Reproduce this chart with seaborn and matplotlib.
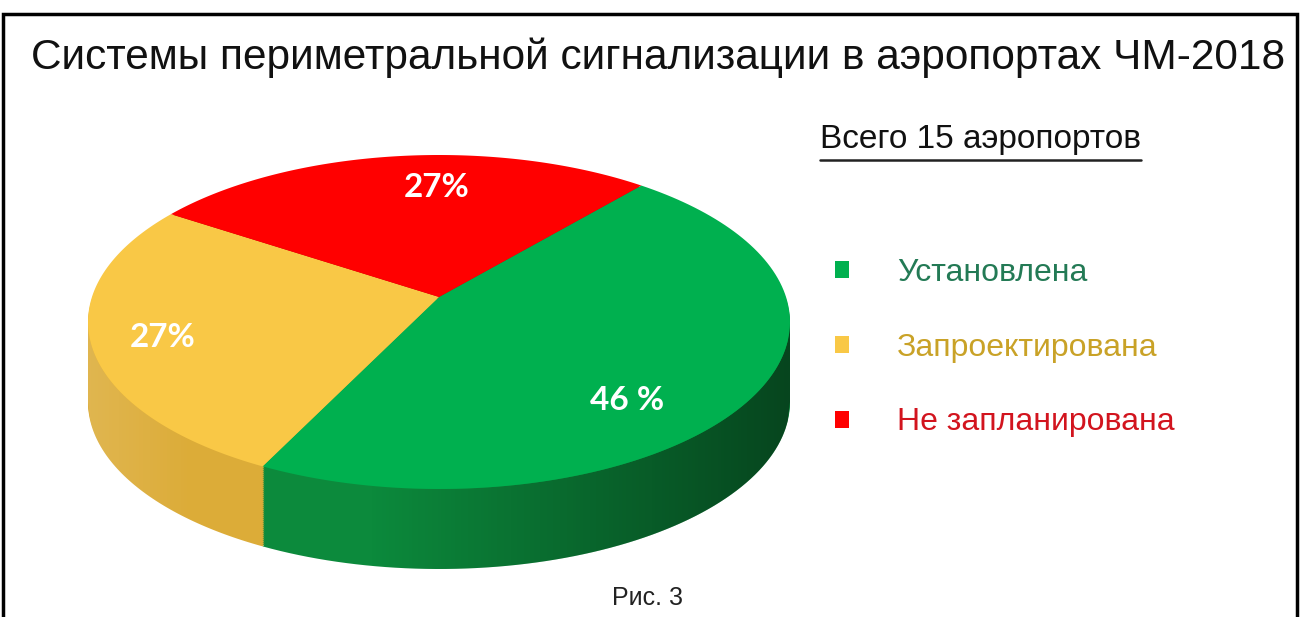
import numpy as np
import matplotlib
matplotlib.use("Agg")
import matplotlib.pyplot as plt
import seaborn as sns
from matplotlib.patches import Rectangle, PathPatch
from matplotlib.path import Path
from matplotlib.lines import Line2D
from matplotlib.transforms import Transform, Affine2D

# ---- data ----
categories = ["Установлена", "Запроектирована", "Не запланирована"]
shares = [46, 27, 27]
pct_labels = ["46 %", "27%", "27%"]
top_colors = ["#00b04f", "#f9c846", "#ff0000"]
side_colors = ["#0c8a3c", "#dcac38", "#c00000"]
legend_text_colors = ["#237a55", "#c9a227", "#d2141e"]
title = "Системы периметральной сигнализации в аэропортах ЧМ-2018"
subtitle = "Всего 15 аэропортов"
caption = "Рис. 3"

sns.set_theme(style="white")
plt.rcParams["font.family"] = ["Liberation Sans", "DejaVu Sans"]

W, H = 1300, 617
fig = plt.figure(figsize=(13, 6.17), dpi=100)
fig.patch.set_facecolor("white")


def fx(px):
    return px / W


def fy(py):
    return 1 - py / H


class Tilt(Transform):
    """Perspective view of a flat disk (far side shrunk)."""
    input_dims = 2
    output_dims = 2
    is_separable = False
    has_inverse = False

    def __init__(self, a):
        super().__init__()
        self.a = a

    def transform_non_affine(self, values):
        values = np.asarray(values, dtype=float)
        u, v = values[:, 0], values[:, 1]
        a = self.a
        w = 1 + a * v
        X = u / w * np.sqrt(1 - a * a)
        Y = (1 - a * a) * v / w + a
        return np.column_stack([X, Y])

    def transform_path_non_affine(self, path):
        pts = []
        for seg, code in path.iter_bezier():
            pts.append(seg(np.linspace(0, 1, 30)))
        verts = np.vstack(pts)
        return Path(self.transform_non_affine(verts))


# ---- pie axes ----
ax_l, ax_r, ax_t, ax_b = 40, 840, 130, 600
ax = fig.add_axes([fx(ax_l), fy(ax_b), (ax_r - ax_l) / W, (ax_b - ax_t) / H])
cx_px, cy_px, rx_px, ry_px = 439, 322, 351, 167
depth = 80 / ry_px
start = 49.5
tilt = 0.15

for k in list(np.linspace(depth, 0.0, 40, endpoint=False)) + [0.0]:
    top = (k == 0.0)
    ws, _ = ax.pie(shares, colors=top_colors if top else side_colors, startangle=start,
                   counterclock=False, center=(0, 0), radius=1,
                   wedgeprops=dict(linewidth=0))
    for w in ws:
        w.set_transform(Tilt(tilt) + Affine2D().translate(0, -k) + ax.transData)
        if top:
            w.set_zorder(6)
    if top:
        wedges = ws

# shading on the side band
xs = np.linspace(-1, 1, 300)
upper = -np.sqrt(np.clip(1 - xs ** 2, 0, None))
verts = np.vstack([np.column_stack([xs, upper]),
                   np.column_stack([xs[::-1], upper[::-1] - depth])])
verts = np.vstack([verts, verts[:1]])
band = PathPatch(Path(verts, closed=True), facecolor="none", edgecolor="none",
                 transform=ax.transData)
ax.add_patch(band)
t = np.linspace(0, 1, 256)
grad = np.zeros((1, 256, 4))
light = t < 0.15
grad[0, light, :3] = 1.0
grad[0, light, 3] = 0.12 * (1 - t[light] / 0.15)
dark = t > 0.4
grad[0, dark, 3] = 0.5 * (t[dark] - 0.4) / 0.6
im = ax.imshow(grad, extent=[-1, 1, -1 - depth, 0], aspect="auto", zorder=5,
               interpolation="bilinear")
im.set_clip_path(band)

ax.set_aspect("auto")
ax.set_xlim((ax_l - cx_px) / rx_px, (ax_r - cx_px) / rx_px)
ax.set_ylim((cy_px - ax_b) / ry_px, (cy_px - ax_t) / ry_px)
ax.axis("off")

# percentage labels
label_pos_px = [(627, 400), (163, 337), (437, 187)]
for lab, (px, py) in zip(pct_labels, label_pos_px):
    ax.text((px - cx_px) / rx_px, (cy_px - py) / ry_px, lab, ha="center", va="center",
            color="white", fontsize=24, fontweight="bold", family=["Lato", "DejaVu Sans"],
            zorder=10)

# ---- texts ----
fig.text(fx(658), fy(58), title, ha="center", va="center", fontsize=30.5,
         family=["Liberation Sans Narrow", "Liberation Sans", "DejaVu Sans"], color="#111111")
sub = fig.text(fx(820), fy(148), subtitle, ha="left", va="baseline", fontsize=24, color="#111111")
fig.text(fx(648), fy(598), caption, ha="center", va="center", fontsize=18, color="#222222")

fig.canvas.draw()
bb = sub.get_window_extent()
fig.add_artist(Line2D([bb.x0 / W, bb.x1 / W], [fy(160), fy(160)], transform=fig.transFigure,
                      color="#222222", lw=1.8))

leg = fig.legend(wedges, categories, loc="upper left", bbox_to_anchor=(fx(835), fy(258)),
                 frameon=False, fontsize=23, handlelength=0.44, handleheight=0.44,
                 handletextpad=1.5, labelspacing=1.4, borderpad=0, borderaxespad=0,
                 labelcolor=legend_text_colors)

# frame
fig.add_artist(Rectangle((fx(3), fy(640)), 1294 / W, 626 / H, transform=fig.transFigure,
                         fill=False, edgecolor="black", lw=2.5))

fig.savefig("out.png", dpi=100, facecolor="white")
